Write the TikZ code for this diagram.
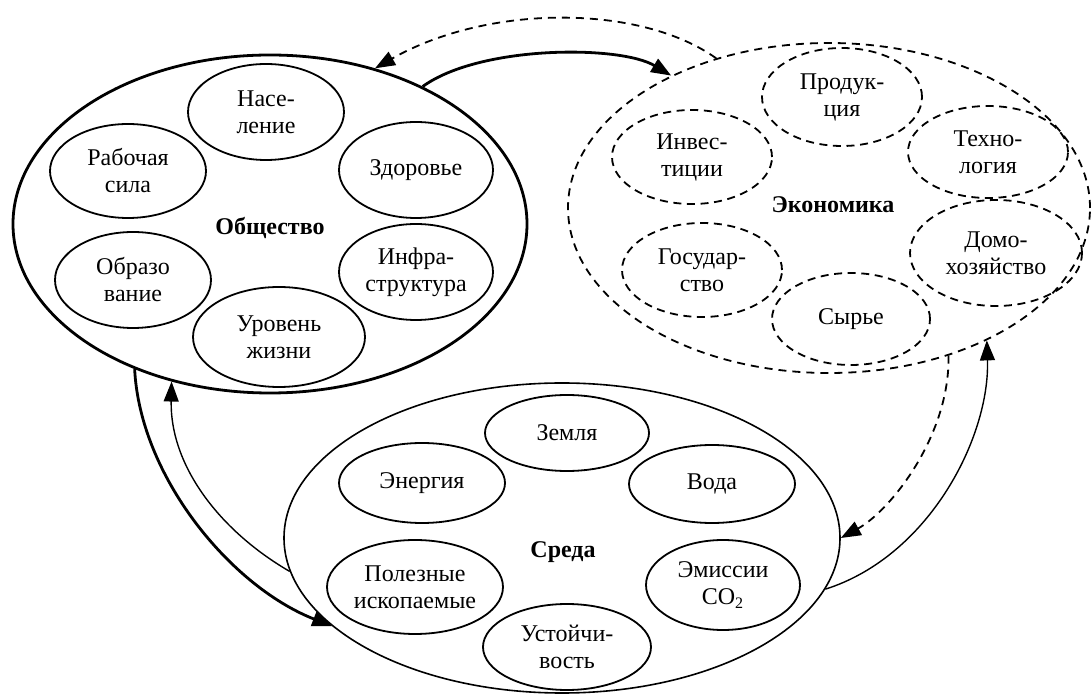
\documentclass[tikz,border=0pt]{standalone}
\usepackage{fontspec}
\setmainfont{Liberation Serif}
\usetikzlibrary{shapes.geometric,arrows.meta}

\begin{document}
\begin{tikzpicture}[x=0.5pt,y=0.5pt,
    font=\fontsize{12}{13.5}\selectfont,
    >={Triangle[length=10pt,width=7.5pt]},
    sz/.style 2 args={minimum width=#1pt,minimum height=#2pt},
    part/.style={ellipse,draw,line width=0.9pt,inner sep=0pt,align=center},
    dpart/.style={part,dash pattern=on 4pt off 2.8pt},
    whole/.style={ellipse,draw,inner sep=0pt},
    title/.style={font=\fontsize{12}{13.5}\selectfont\bfseries}]
\useasboundingbox (0,0) rectangle (1092,696);

% society
\node[whole,line width=1.4pt,sz={257}{169}] (soc) at (270,472) {};
\node[title] (socl) at (270,468) {Общество};
\node[part,sz={78}{48}] (pop) at (266,584) {Насе-\\ление};
\node[part,sz={78}{47}] (lab) at (128,525) {Рабочая\\сила};
\node[part,sz={77}{48}] (hea) at (416,526) {Здоровье};
\node[part,sz={78}{48}] (edu) at (133,416) {Образо\\вание};
\node[part,sz={77}{48}] (inf) at (416,424) {Инфра-\\структура};
\node[part,sz={86}{50}] (liv) at (279,359) {Уровень\\жизни};

% economy
\node[whole,line width=0.9pt,dash pattern=on 4pt off 3pt,sz={261}{165}] (eco) at (829,488) {};
\node[title] (ecol) at (833,491) {Экономика};
\node[dpart,sz={80}{49}] (prd) at (842,599) {Продук-\\ция};
\node[dpart,sz={80}{47}] (inv) at (692,539) {Инвес-\\тиции};
\node[dpart,sz={80}{46}] (tec) at (988,544) {Техно-\\логия};
\node[dpart,sz={80}{47}] (gov) at (702,426) {Государ-\\ство};
\node[dpart,sz={86}{53}] (hh) at (996,443) {Домо-\\хозяйство};
\node[dpart,sz={79}{46}] (raw) at (851,377) {Сырье};

% environment
\node[whole,line width=0.8pt,sz={278}{155}] (env) at (562,158) {};
\node[title] (envl) at (563,144) {Среда};
\node[part,sz={82}{38}] (lnd) at (567,263) {Земля};
\node[part,sz={83}{40}] (ene) at (422,213) {Энергия};
\node[part,sz={83}{39}] (wat) at (712,212) {Вода};
\node[part,sz={88}{47}] (min) at (415,109) {Полезные\\ископаемые};
\node[part,sz={77}{45}] (emi) at (723,111) {Эмиссии\\CO\textsubscript{2}};
\node[part,sz={84}{43}] (sus) at (567,49) {Устойчи-\\вость};

% links
\draw[->,line width=1.4pt] (soc.42) .. controls (480,651) and (620,651) .. (eco.140);
\draw[->,line width=0.9pt,dash pattern=on 4pt off 3pt] (eco.127) .. controls (640,692) and (488,692) .. (soc.56);
\draw[->,line width=1.4pt] (soc.227) .. controls (140,220) and (230,110) .. (env.201);
\draw[->,line width=0.7pt] (env.187) .. controls (220,165) and (170,230) .. (soc.238);
\draw[->,line width=0.9pt,dash pattern=on 4pt off 3pt] (eco.-51) .. controls (950,260) and (890,185) .. (env.0);
\draw[->,line width=0.7pt] (env.-11) .. controls (930,140) and (990,260) .. (eco.-40);
\end{tikzpicture}
\end{document}
